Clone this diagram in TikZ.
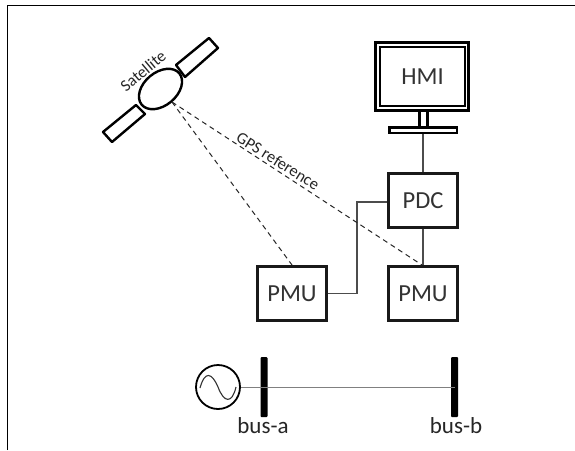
\documentclass[tikz,border=0pt]{standalone}
\usepackage{fontspec}
\usetikzlibrary{shapes.geometric}
\setmainfont{Carlito}
\begin{document}
\begin{tikzpicture}[x=1pt,y=-1pt,
  box/.style={draw=black!90,line width=2.4pt,minimum width=69pt,minimum height=54pt,inner sep=0pt,font=\fontsize{24.5}{24}\selectfont,text=black!80},
  wire/.style={draw=black!70,line width=1.2pt},
  feeder/.style={draw=black!50,line width=0.8pt},
  gps/.style={draw=black!85,line width=1pt,dash pattern=on 5pt off 4pt},
  panel/.style={draw=black,line width=2.4pt,fill=white,line join=round},
  busbar/.style={fill=black,draw=none,minimum width=7pt,minimum height=60pt,inner sep=0pt,rounded corners=1pt},
  buslabel/.style={font=\fontsize{23}{23}\selectfont,text=black!85,inner sep=0pt},
  tag/.style={font=\fontsize{16.5}{17}\selectfont,text=black!85,inner sep=0pt}]
\useasboundingbox (0,0) rectangle (575,450);
\fill[white] (0,0) rectangle (575,450);
% frame
\draw[black,line width=1.6pt] (7.5,450) -- (7.5,5.5) -- (575,5.5);
% monitor
\draw[black,line width=2.2pt] (419.5,111) rectangle (427.5,127);
\draw[black,line width=2.2pt,fill=white] (389.5,127.5) rectangle (457,133);
\draw[black,line width=2.2pt,fill=white] (375.5,42.5) rectangle (468.5,110.5);
\node[draw=black,line width=2.2pt,minimum width=85pt,minimum height=59pt,inner sep=0pt,font=\fontsize{24.5}{24}\selectfont,text=black!80] (hmi) at (422.5,76.5) {HMI};
\coordinate (stand) at (423,134);
% boxes
\node[box] (pdc) at (423,200.5) {PDC};
\node[box] (pmub) at (423,293.5) {PMU};
\node[box] (pmua) at (292,293.5) {PMU};
\draw[wire] (stand) -- (pdc.north);
\draw[wire] (pdc.south) -- (pmub.north);
\draw[wire] (pmua.east) -- (357,293.5) -- (357,202) -- (pdc.west |- 0,202);
% satellite
\draw[panel] (209,38) -- (218,48) -- (185,77) -- (176,65) -- cycle;
\draw[panel] (136,105) -- (145,114) -- (112,142) -- (103,132) -- cycle;
\node[draw=black,line width=2.4pt,fill=white,ellipse,minimum width=49pt,minimum height=33pt,inner sep=0pt,rotate=40] (sat) at (160.5,89) {};
\coordinate (beam) at (172,102);
\node[tag,rotate=40] (sattag) at (143,71) {Satellite};
\draw[gps] (beam) -- (292,265);
\draw[gps] (beam) -- (422,265);
\node[tag,rotate=-32] (gpstag) at (278,161) {GPS reference};
% bus
\node[busbar] (busa) at (264,387) {};
\node[busbar] (busb) at (454.5,387) {};
\node[draw=black,line width=1.8pt,circle,minimum size=44pt,inner sep=0pt] (gen) at (218,387) {};
\draw[feeder] (gen.east) -- (busa.center);
\draw[feeder] (busa.center) -- (busb.center);
\draw[black!80,line width=1.1pt] (200,388) .. controls (205,370) and (212,373) .. (218,387) .. controls (224,403) and (232,404) .. (236,387);
\node[buslabel] (la) at (263,426) {bus-a};
\node[buslabel] (lb) at (456,426) {bus-b};
\end{tikzpicture}
\end{document}
